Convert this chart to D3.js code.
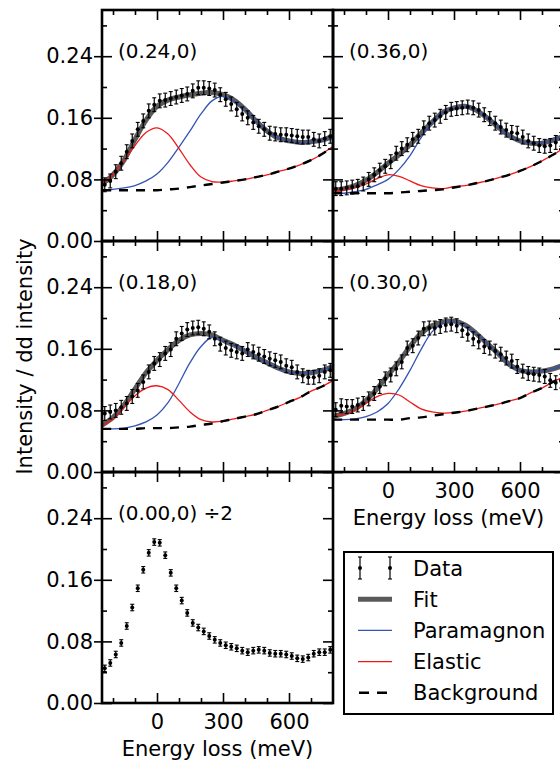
<!DOCTYPE html>
<html>
<head>
<meta charset="utf-8">
<style>
  body { margin: 0; background: white; }
  text { font-family: "DejaVu Sans", sans-serif; fill: black; }
</style>
<title>RIXS spectra</title>
</head>
<body>
<script src="https://cdnjs.cloudflare.com/ajax/libs/d3/7.8.5/d3.min.js"></script>
<script>
// energy grid of the measured points (meV)
var energy = [-237.5, -212.5, -187.5, -162.5, -137.5, -112.5, -87.5, -62.5, -37.5, -12.5,
              12.5, 37.5, 62.5, 87.5, 112.5, 137.5, 162.5, 187.5, 212.5, 237.5,
              262.5, 287.5, 312.5, 337.5, 362.5, 387.5, 412.5, 437.5, 462.5, 487.5,
              512.5, 537.5, 562.5, 587.5, 612.5, 637.5, 662.5, 687.5, 712.5, 737.5,
              762.5, 787.5];
// energy grid of the fitted curves (meV)
var curveEnergy = [-250, -200, -150, -100, -50, 0, 50, 100, 150, 200, 250,
                   300, 350, 400, 450, 500, 550, 600, 650, 700, 750, 800];

var panelLabels = ["(0.24,0)", "(0.36,0)", "(0.18,0)", "(0.30,0)", "(0.00,0) \u00f72"];
var panelErr = [0.009, 0.009, 0.009, 0.009, 0.0042];

var xMajor = [0, 300, 600];
var xMinor = [-200, -100, 100, 200, 400, 500, 700];
var yMajor = [0, 0.08, 0.16, 0.24];
var yMinor = [0.04, 0.12, 0.20, 0.28];

var legendNames = ["Data", "Fit", "Paramagnon", "Elastic", "Background"];

// (0.24,0)
var data024 = [0.073, 0.078, 0.090, 0.101, 0.116, 0.130, 0.145, 0.156, 0.169, 0.177,
               0.182, 0.183, 0.185, 0.187, 0.189, 0.191, 0.195, 0.199, 0.199, 0.198,
               0.196, 0.190, 0.184, 0.178, 0.171, 0.165, 0.160, 0.154, 0.149, 0.145,
               0.140, 0.139, 0.138, 0.138, 0.137, 0.136, 0.135, 0.135, 0.132, 0.130,
               0.133, 0.136];
var fit024 = [0.074, 0.086, 0.105, 0.132, 0.157, 0.175, 0.183, 0.187, 0.190, 0.192, 0.193,
              0.190, 0.183, 0.171, 0.156, 0.143, 0.134, 0.130, 0.128, 0.129, 0.131, 0.136];
var para024 = [0.066, 0.067, 0.069, 0.072, 0.078, 0.087, 0.102, 0.122, 0.143, 0.165, 0.182,
               0.188, 0.182, 0.170, 0.156, 0.143, 0.134, 0.130, 0.128, 0.129, 0.131, 0.136];
var elastic024 = [0.074, 0.086, 0.104, 0.124, 0.141, 0.147, 0.139, 0.120, 0.099, 0.083, 0.077,
                  0.0765, 0.078, 0.080, 0.083, 0.086, 0.090, 0.094, 0.099, 0.105, 0.113, 0.123];
var bg024 = [0.066, 0.066, 0.066, 0.066, 0.066, 0.066, 0.067, 0.068, 0.070, 0.072, 0.074,
             0.076, 0.078, 0.080, 0.083, 0.086, 0.090, 0.094, 0.099, 0.105, 0.113, 0.123];

// (0.36,0)
var data036 = [0.068, 0.068, 0.069, 0.070, 0.071, 0.074, 0.080, 0.086, 0.092, 0.097,
               0.103, 0.114, 0.120, 0.125, 0.132, 0.136, 0.147, 0.153, 0.157, 0.162,
               0.167, 0.171, 0.172, 0.173, 0.174, 0.173, 0.170, 0.164, 0.159, 0.153,
               0.148, 0.144, 0.141, 0.140, 0.135, 0.130, 0.127, 0.124, 0.123, 0.124,
               0.128, 0.132];
var fit036 = [0.066, 0.068, 0.072, 0.079, 0.089, 0.101, 0.112, 0.125, 0.140, 0.154, 0.167,
              0.173, 0.175, 0.170, 0.160, 0.148, 0.137, 0.130, 0.127, 0.127, 0.131, 0.136];
var para036 = [0.062, 0.062, 0.064, 0.067, 0.073, 0.080, 0.093, 0.111, 0.134, 0.153, 0.167,
               0.173, 0.175, 0.170, 0.160, 0.148, 0.137, 0.130, 0.127, 0.127, 0.131, 0.136];
var elastic036 = [0.064, 0.066, 0.069, 0.074, 0.081, 0.086, 0.084, 0.078, 0.072, 0.069, 0.068,
                  0.0705, 0.072, 0.075, 0.078, 0.082, 0.086, 0.091, 0.097, 0.104, 0.112, 0.121];
var bg036 = [0.062, 0.062, 0.062, 0.062, 0.062, 0.062, 0.063, 0.064, 0.065, 0.066, 0.067,
             0.0695, 0.072, 0.075, 0.078, 0.082, 0.086, 0.091, 0.097, 0.104, 0.112, 0.121];

// (0.18,0)
var data018 = [0.076, 0.078, 0.080, 0.084, 0.089, 0.098, 0.106, 0.117, 0.130, 0.141,
               0.146, 0.154, 0.159, 0.173, 0.180, 0.185, 0.187, 0.188, 0.186, 0.182,
               0.173, 0.166, 0.161, 0.158, 0.156, 0.154, 0.159, 0.156, 0.153, 0.150,
               0.147, 0.145, 0.143, 0.138, 0.136, 0.130, 0.125, 0.123, 0.123, 0.125,
               0.130, 0.132];
var fit018 = [0.061, 0.071, 0.087, 0.108, 0.129, 0.145, 0.159, 0.171, 0.178, 0.180, 0.178,
              0.171, 0.165, 0.157, 0.149, 0.142, 0.135, 0.130, 0.128, 0.129, 0.132, 0.137];
var para018 = [0.056, 0.056, 0.057, 0.060, 0.065, 0.074, 0.090, 0.115, 0.142, 0.163, 0.175,
               0.170, 0.165, 0.157, 0.149, 0.142, 0.135, 0.130, 0.128, 0.129, 0.132, 0.137];
var elastic018 = [0.060, 0.069, 0.084, 0.099, 0.109, 0.112, 0.107, 0.093, 0.078, 0.068, 0.065,
                  0.066, 0.069, 0.072, 0.075, 0.080, 0.085, 0.091, 0.097, 0.105, 0.111, 0.119];
var bg018 = [0.056, 0.056, 0.056, 0.056, 0.057, 0.057, 0.057, 0.058, 0.059, 0.061, 0.063,
             0.066, 0.069, 0.072, 0.075, 0.080, 0.085, 0.091, 0.097, 0.105, 0.111, 0.119];

// (0.30,0)
var data030 = [0.081, 0.086, 0.085, 0.085, 0.087, 0.089, 0.095, 0.102, 0.111, 0.121,
               0.126, 0.134, 0.143, 0.161, 0.164, 0.174, 0.186, 0.187, 0.187, 0.189,
               0.191, 0.192, 0.190, 0.184, 0.179, 0.173, 0.169, 0.163, 0.161, 0.157,
               0.153, 0.148, 0.144, 0.137, 0.131, 0.128, 0.127, 0.126, 0.124, 0.119,
               0.116, 0.118];
var fit030 = [0.072, 0.076, 0.082, 0.093, 0.108, 0.126, 0.143, 0.163, 0.180, 0.190, 0.195,
              0.196, 0.191, 0.180, 0.167, 0.154, 0.140, 0.132, 0.130, 0.131, 0.134, 0.139];
var para030 = [0.068, 0.068, 0.069, 0.072, 0.078, 0.089, 0.108, 0.132, 0.159, 0.182, 0.193,
               0.195, 0.190, 0.180, 0.167, 0.154, 0.140, 0.132, 0.130, 0.131, 0.134, 0.139];
var elastic030 = [0.072, 0.075, 0.080, 0.089, 0.098, 0.102, 0.100, 0.091, 0.082, 0.078, 0.0765,
                  0.077, 0.079, 0.082, 0.085, 0.088, 0.092, 0.096, 0.103, 0.109, 0.117, 0.124];
var bg030 = [0.068, 0.068, 0.068, 0.068, 0.068, 0.068, 0.068, 0.070, 0.071, 0.073, 0.075,
             0.077, 0.079, 0.082, 0.085, 0.088, 0.092, 0.096, 0.103, 0.109, 0.117, 0.124];

// (0.00,0), divided by 2
var data000 = [0.045, 0.052, 0.063, 0.078, 0.100, 0.124, 0.149, 0.173, 0.195, 0.209,
               0.208, 0.192, 0.169, 0.149, 0.133, 0.117, 0.104, 0.098, 0.093, 0.087,
               0.082, 0.078, 0.075, 0.073, 0.071, 0.068, 0.066, 0.068, 0.069, 0.068,
               0.065, 0.064, 0.064, 0.063, 0.061, 0.058, 0.057, 0.059, 0.064, 0.066,
               0.066, 0.069];

var colFit = "#5a5a5a", colPara = "#3354b5", colElastic = "#ee1a1a";
var panelW = 231, panelH = 231, left0 = 102, top0 = 10;

var panels = [
  {label: panelLabels[0], col: 0, row: 0, data: data024, err: panelErr[0],
   fit: fit024, para: para024, elastic: elastic024, bg: bg024},
  {label: panelLabels[1], col: 1, row: 0, data: data036, err: panelErr[1],
   fit: fit036, para: para036, elastic: elastic036, bg: bg036},
  {label: panelLabels[2], col: 0, row: 1, data: data018, err: panelErr[2],
   fit: fit018, para: para018, elastic: elastic018, bg: bg018},
  {label: panelLabels[3], col: 1, row: 1, data: data030, err: panelErr[3],
   fit: fit030, para: para030, elastic: elastic030, bg: bg030, xlabels: true},
  {label: panelLabels[4], col: 0, row: 2, data: data000, err: panelErr[4], xlabels: true}
];

var svg = d3.select("body")
            .append("svg")
            .attr("width", 560)
            .attr("height", 764);
svg.append("rect")
   .attr("width", "100%")
   .attr("height", "100%")
   .style("fill", "white");

var x = d3.scaleLinear().domain([-250, 800]).range([0, panelW]);
var y = d3.scaleLinear().domain([0, 0.30]).range([panelH, 0]);

var line = d3.line()
             .x(function(d, i) { return x(curveEnergy[i]); })
             .y(function(d) { return y(d); })
             .curve(d3.curveCatmullRom.alpha(0.5));

function noDomain(g) { g.select(".domain").remove(); }

function ticks(g, axis, values, size) {
  g.call(axis.tickValues(values).tickSize(size).tickFormat(""))
   .call(noDomain);
  g.selectAll(".tick line").attr("stroke-width", 1.6);
}

panels.forEach(function(p, k) {
  var g = svg.append("g")
             .attr("transform", "translate(" + (left0 + p.col * panelW) + "," + (top0 + p.row * panelH) + ")");

  g.append("clipPath").attr("id", "clip" + k)
   .append("rect").attr("width", panelW).attr("height", panelH);
  var plot = g.append("g").attr("clip-path", "url(#clip" + k + ")");

  if (p.fit) {
    plot.append("path").attr("d", line(p.fit))
        .style("fill", "none").style("stroke", colFit).style("stroke-width", 5);
    plot.append("path").attr("d", line(p.para))
        .style("fill", "none").style("stroke", colPara).style("stroke-width", 1.3);
    plot.append("path").attr("d", line(p.elastic))
        .style("fill", "none").style("stroke", colElastic).style("stroke-width", 1.3);
    plot.append("path").attr("d", line(p.bg))
        .style("fill", "none").style("stroke", "black").style("stroke-width", 2.4)
        .style("stroke-dasharray", "9,8");
  }

  // data with error bars
  var pts = plot.selectAll("g.pt")
                .data(p.data)
                .enter()
                .append("g")
                .attr("class", "pt");
  pts.append("line")
     .attr("x1", function(d, i) { return x(energy[i]); })
     .attr("x2", function(d, i) { return x(energy[i]); })
     .attr("y1", function(d) { return y(d - p.err); })
     .attr("y2", function(d) { return y(d + p.err); })
     .style("stroke", "black").style("stroke-width", 1.2);
  [-1, 1].forEach(function(s) {
    pts.append("line")
       .attr("x1", function(d, i) { return x(energy[i]) - 2; })
       .attr("x2", function(d, i) { return x(energy[i]) + 2; })
       .attr("y1", function(d) { return y(d + s * p.err); })
       .attr("y2", function(d) { return y(d + s * p.err); })
       .style("stroke", "black").style("stroke-width", 1.1);
  });
  pts.append("circle")
     .attr("cx", function(d, i) { return x(energy[i]); })
     .attr("cy", function(d) { return y(d); })
     .attr("r", 2)
     .style("fill", "black");

  // inward ticks on all four sides
  var sides = [
    [d3.axisBottom(x), "translate(0," + panelH + ")", xMajor, xMinor],
    [d3.axisTop(x), "translate(0,0)", xMajor, xMinor],
    [d3.axisLeft(y), "translate(0,0)", yMajor, yMinor],
    [d3.axisRight(y), "translate(" + panelW + ",0)", yMajor, yMinor]
  ];
  sides.forEach(function(s) {
    ticks(g.append("g").attr("transform", s[1]), s[0].scale(s[0].scale()), s[2], -10);
  });
  sides.forEach(function(s, j) {
    var ax = [d3.axisBottom(x), d3.axisTop(x), d3.axisLeft(y), d3.axisRight(y)][j];
    ticks(g.append("g").attr("transform", s[1]), ax, s[3], -5);
  });

  // frame
  g.append("rect")
   .attr("width", panelW).attr("height", panelH)
   .style("fill", "none").style("stroke", "black").style("stroke-width", 2.6);

  // y labels on the left column, with outward major ticks
  if (p.col === 0) {
    var ya = g.append("g")
              .call(d3.axisLeft(y).tickValues(yMajor).tickSize(8).tickPadding(1)
                      .tickFormat(d3.format(".2f")))
              .call(noDomain);
    ya.selectAll(".tick line").attr("stroke-width", 1.6);
    ya.selectAll("text").attr("font-size", 21).attr("font-family", "DejaVu Sans");
  }

  if (p.xlabels) {
    var xa = g.append("g")
              .attr("transform", "translate(0," + panelH + ")")
              .call(d3.axisBottom(x).tickValues(xMajor).tickSize(0).tickPadding(11))
              .call(noDomain);
    xa.selectAll("text").attr("font-size", 21).attr("font-family", "DejaVu Sans");
    g.append("text")
     .attr("x", panelW / 2)
     .attr("y", panelH + 53)
     .style("text-anchor", "middle")
     .style("font-size", "21px")
     .text("Energy loss (meV)");
  }

  g.append("text")
   .attr("x", 16)
   .attr("y", 48)
   .style("font-size", "20px")
   .text(p.label);
});

// y axis title
svg.append("text")
   .attr("transform", "translate(32," + (top0 + 1.5 * panelH) + ") rotate(-90)")
   .style("text-anchor", "middle")
   .style("font-size", "21px")
   .text("Intensity / dd intensity");

// legend
var lg = svg.append("g").attr("transform", "translate(344,552)");
lg.append("rect")
  .attr("width", 209).attr("height", 162)
  .style("fill", "white").style("stroke", "black").style("stroke-width", 2);
var rowY = function(i) { return 16 + i * 31.2; };
lg.selectAll("text.leg")
  .data(legendNames)
  .enter()
  .append("text")
  .attr("class", "leg")
  .attr("x", 69)
  .attr("y", function(d, i) { return rowY(i); })
  .attr("dy", "0.36em")
  .style("font-size", "21px")
  .text(function(d) { return d; });

[16, 46].forEach(function(hx) {
  lg.append("line").attr("x1", hx).attr("x2", hx)
    .attr("y1", rowY(0) - 11).attr("y2", rowY(0) + 11)
    .style("stroke", "black").style("stroke-width", 1.2);
  [-11, 11].forEach(function(o) {
    lg.append("line").attr("x1", hx - 2).attr("x2", hx + 2)
      .attr("y1", rowY(0) + o).attr("y2", rowY(0) + o)
      .style("stroke", "black").style("stroke-width", 1.1);
  });
  lg.append("circle").attr("cx", hx).attr("cy", rowY(0)).attr("r", 2).style("fill", "black");
});
lg.append("line").attr("x1", 14).attr("x2", 48).attr("y1", rowY(1)).attr("y2", rowY(1))
  .style("stroke", colFit).style("stroke-width", 5);
lg.append("line").attr("x1", 14).attr("x2", 48).attr("y1", rowY(2)).attr("y2", rowY(2))
  .style("stroke", colPara).style("stroke-width", 1.3);
lg.append("line").attr("x1", 14).attr("x2", 48).attr("y1", rowY(3)).attr("y2", rowY(3))
  .style("stroke", colElastic).style("stroke-width", 1.3);
lg.append("line").attr("x1", 15).attr("x2", 48).attr("y1", rowY(4)).attr("y2", rowY(4))
  .style("stroke", "black").style("stroke-width", 2.4).style("stroke-dasharray", "10,8");
</script>
</body>
</html>
